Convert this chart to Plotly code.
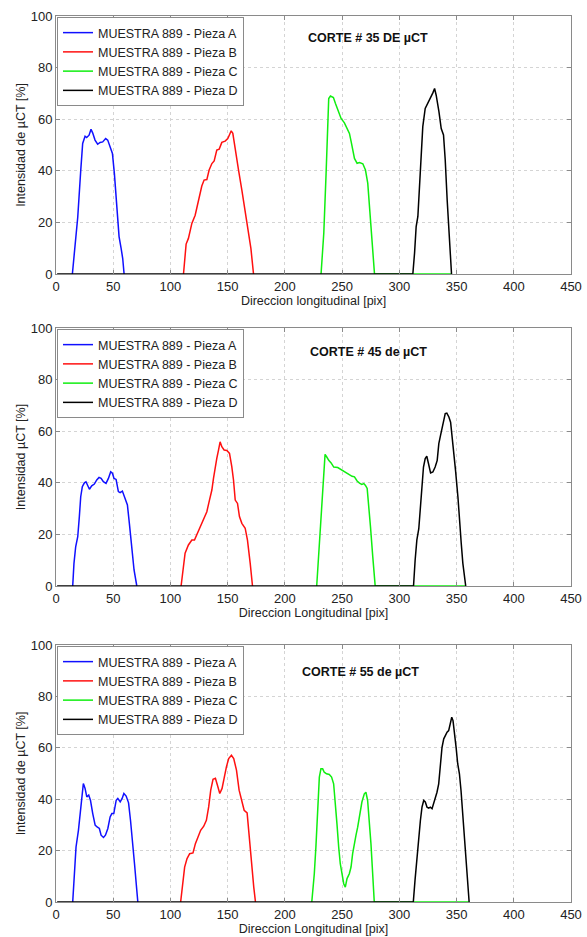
import plotly.graph_objects as go

# ---------------- DATA ----------------
names = ["MUESTRA 889 - Pieza A", "MUESTRA 889 - Pieza B",
         "MUESTRA 889 - Pieza C", "MUESTRA 889 - Pieza D"]
colors = ["#1010ff", "#ff1010", "#10ee10", "#000000"]

# Corte 35
c35_ax = [14.3, 16.6, 19, 21.6, 23.3, 25.4, 26.8, 28.9, 30.6, 32.1, 34.1, 36.4, 38.5, 40.8, 43.4, 45.2, 47.2, 49.3, 51, 53, 55.1, 56.9, 58.3, 59.5]
c35_ay = [0, 10.6, 22, 40, 50.6, 53.4, 52.9, 53.8, 56.1, 54.6, 51.9, 50.3, 51, 51.2, 52.5, 51.9, 49.3, 46.7, 39, 28.6, 14.5, 9.9, 6, 0]
c35_bx = [111.4, 112.3, 113.7, 115.7, 118.7, 121.6, 124.5, 127.4, 129.4, 131.8, 133.8, 136.2, 138.2, 140.5, 142.6, 144.9, 147.8, 150.1, 151.6, 153.1, 154.5, 156.6, 159.5, 162.4, 165.3, 168.2, 170.3, 172.6]
c35_by = [0, 5.4, 11.6, 13.8, 19.6, 22.8, 28.6, 34.1, 36.4, 36.6, 40.3, 42.8, 43.8, 48, 48.4, 51, 51.5, 52.5, 54, 55.5, 54.5, 48, 40.3, 32.5, 24.8, 16.4, 9.9, 0]
c35_cx = [231.6, 234, 236, 237.5, 238.3, 239.8, 242.4, 244.2, 246.2, 249.1, 252, 254.4, 256.4, 257.9, 259.3, 260.8, 263.1, 265.2, 268.1, 270.4, 272.4, 274.8, 276.8, 278.3, 346]
c35_cy = [0, 15.9, 39, 58.4, 68, 69, 68.4, 66.1, 63.5, 60.3, 58.6, 56.4, 54.5, 51.3, 47.4, 44.8, 42.9, 43.2, 42.7, 40.3, 35.2, 21, 8.1, 0, 0]
c35_dx = [1, 311.8, 313.3, 314.7, 316.2, 317.6, 319.1, 320.5, 322.6, 324.9, 327.3, 329.3, 330.8, 332.2, 334.6, 336.6, 338.6, 340.1, 341.8, 343.3, 344.8, 345.6, 346]
c35_dy = [0, 0, 8.1, 18.4, 22.3, 32.6, 46.8, 57.1, 64.2, 66.1, 68, 70.2, 71.9, 69.3, 62.9, 56.4, 53.9, 44.2, 28.7, 15.9, 5.5, 0, 0]

# Corte 45
c45_ax = [14.6, 15.7, 17.2, 19, 20.4, 21.6, 23, 24.8, 26.2, 27.7, 29.2, 31.2, 33.5, 35.6, 37.6, 39.4, 41.4, 43.7, 45.8, 47.8, 49.3, 50.7, 52.5, 54.5, 56, 58, 60.3, 62.4, 64.1, 66.2, 68.2, 70.6]
c45_ay = [0, 8.8, 15.2, 19.1, 26.9, 34.6, 38.5, 40, 40.4, 39.1, 37.5, 38.8, 39.5, 41.1, 42.1, 41.7, 40.4, 39.8, 41.7, 44.3, 43.7, 41.7, 41.3, 36.6, 36.2, 36.8, 34, 31.4, 24.3, 14, 6.2, 0]
c45_bx = [109.3, 110.8, 112.8, 115.7, 118.7, 121, 123, 126, 128.9, 131.8, 134.1, 136.2, 137.6, 139.1, 140.5, 142, 143.4, 144.9, 146.9, 149.3, 151.6, 153.6, 155.1, 156.6, 158.6, 160.3, 162.4, 165.3, 167.3, 169.7, 171.7]
c45_by = [0, 6.2, 12.7, 15.9, 17.8, 17.8, 19.8, 23, 26.2, 28.8, 33.3, 37.2, 41.7, 46.3, 49.5, 52.7, 55.9, 54, 52.7, 52.5, 51.4, 46.3, 41.1, 33.3, 32, 26.9, 24.3, 22.4, 17.8, 8.8, 0]
c45_cx = [227.8, 229.5, 231.6, 233.7, 235.1, 236.6, 238.3, 240.4, 242.7, 246.2, 249.1, 252, 254.4, 256.4, 258.7, 260.8, 263.1, 265.2, 267.2, 269, 270.4, 271.9, 273.4, 274.8, 276.8, 278.9, 358]
c45_cy = [0, 12.6, 29.4, 44.8, 51, 50, 48.7, 47.7, 46.1, 45.9, 45.1, 44.2, 43.6, 43.3, 42.5, 42.3, 40.7, 39.9, 39.4, 39.7, 39, 37.8, 30.7, 22.9, 11.3, 0, 0]
c45_dx = [1, 312.4, 313.8, 315.3, 317, 318.5, 319.6, 321.1, 322.6, 324, 325.5, 327.3, 329.3, 331.3, 333.1, 334.5, 336, 338, 340.1, 341.5, 343.3, 344.8, 346.2, 347.7, 349.1, 351.2, 352.6, 354.1, 355.5, 357.6, 358]
c45_dy = [0, 0, 10, 17.8, 22.2, 30.7, 37.1, 46.1, 49.4, 50.3, 47.4, 43.8, 44.2, 46.1, 48.7, 55.2, 58.4, 62.9, 66.8, 67, 65.5, 63.5, 57.7, 52.6, 44.8, 34.5, 24.2, 16.5, 8.8, 0, 0]

# Corte 55
c55_ax = [14.6, 16.1, 17.5, 19.6, 21.3, 22.8, 23.9, 25.4, 26.9, 28.6, 30.1, 32.1, 34.2, 35.9, 37.9, 39.4, 41.5, 43.2, 45.3, 47.3, 48.8, 50.5, 52.6, 54, 56.1, 57.8, 59.3, 61.3, 63.4, 65.1, 67.2, 68.6, 70.1, 71.5]
c55_ay = [0, 11, 21.4, 27.9, 35.7, 43.5, 46.1, 44.2, 40.9, 41.6, 39.6, 34.4, 29.9, 29.2, 28.6, 26, 25.1, 26, 28.6, 33.1, 34.4, 34.4, 39.6, 40.3, 39, 40.3, 42.2, 41.2, 38.6, 31.8, 22.7, 14.9, 7.1, 0]
c55_bx = [108.9, 110.4, 112.4, 114.5, 116.8, 119.7, 121.8, 124.1, 126.4, 129.1, 131.4, 133.4, 135.2, 137.2, 139.3, 141, 143.1, 145.1, 146.9, 148.9, 150.9, 153.3, 155.3, 157.7, 160, 162, 164.4, 167, 168.8, 170.8, 172.8, 174.3]
c55_by = [0, 7.1, 13.6, 16.9, 18.8, 19.1, 22.7, 25.3, 27.9, 29.5, 31.8, 37, 43.5, 47.7, 48.1, 45.5, 42.2, 44.2, 48.7, 52.6, 55.8, 57.1, 55.8, 51.3, 43.5, 39.6, 35.7, 34.7, 25.3, 13.6, 5.8, 0]
c55_cx = [223.5, 225.7, 227.1, 228.6, 230.1, 231.5, 233, 234.4, 236.4, 238.8, 240.8, 242.6, 244, 245.5, 247, 248.4, 249.9, 251.4, 252.8, 254.3, 256.3, 257.8, 259.2, 260.7, 262.1, 263.6, 265.6, 267.3, 269.4, 270.8, 272.3, 273.8, 275.2, 276.7, 278.1, 361]
c55_cy = [0, 11, 21.4, 35.6, 48.6, 51.8, 51.8, 50.5, 49.9, 49.6, 48.6, 46, 39.5, 30.4, 21.4, 14.9, 11, 7.1, 5.8, 9.1, 11, 13.6, 18.8, 23.3, 25.9, 29.1, 34.3, 38.9, 42.1, 42.7, 39.5, 31.7, 22.7, 11, 0, 0]
c55_dx = [1, 312.2, 313.7, 315.2, 316.6, 318.4, 319.8, 321.3, 322.7, 324.2, 325.7, 327.1, 328.6, 330, 331.5, 332.9, 334.4, 335.9, 337.3, 338.8, 340.2, 341.7, 343.1, 344.3, 345.8, 346.9, 348.1, 349.6, 351, 352.5, 353.9, 355.4, 356.9, 358.3, 359.8, 361, 361.5]
c55_dy = [0, 0, 8.4, 16.2, 24, 31.7, 36.9, 39.5, 38.9, 36.9, 36.5, 36.9, 36.3, 38.2, 40.8, 42.7, 46, 52.5, 60.2, 63.5, 64.8, 66.1, 66.7, 69.3, 71.9, 70.6, 66.7, 60.2, 53.8, 49.9, 43.4, 34.3, 22.7, 13.6, 5.8, 0, 0]

titles = ["CORTE # 35 DE µCT", "CORTE # 45 de µCT", "CORTE # 55 de µCT"]
xtitles = ["Direccion longitudinal [pix]", "Direccion Longitudinal [pix]", "Direccion Longitudinal [pix]"]
ytitles = ["Intensidad de µCT [%]", "Intensidad µCT [%]", "Intensidad de µCT [%]"]
x_ticks = [0, 50, 100, 150, 200, 250, 300, 350, 400, 450]
y_ticks = [0, 20, 40, 60, 80, 100]

panels = [
    [(c35_ax, c35_ay), (c35_bx, c35_by), (c35_cx, c35_cy), (c35_dx, c35_dy)],
    [(c45_ax, c45_ay), (c45_bx, c45_by), (c45_cx, c45_cy), (c45_dx, c45_dy)],
    [(c55_ax, c55_ay), (c55_bx, c55_by), (c55_cx, c55_cy), (c55_dx, c55_dy)],
]

# ---------------- LAYOUT ----------------
W, H = 587, 937
x0_px, x1_px = 56, 571
panel_px = [(16, 274), (328, 586), (645, 902)]
title_px = [(368, 38), (368, 352), (360, 672)]
FONT = "Liberation Sans, Arial, Helvetica, sans-serif"

fig = go.Figure()
legend_keys = ["legend", "legend2", "legend3"]
layout = dict(
    width=W, height=H, autosize=False,
    margin=dict(l=0, r=0, t=0, b=0, autoexpand=False),
    paper_bgcolor="white", plot_bgcolor="white",
    font=dict(family=FONT, size=12, color="#222"),
    annotations=[],
)

for i, series in enumerate(panels):
    xa = "x" if i == 0 else f"x{i+1}"
    ya = "y" if i == 0 else f"y{i+1}"
    for j, (xs, ys) in enumerate(series):
        fig.add_trace(go.Scatter(
            x=xs, y=ys, mode="lines", name=names[j],
            line=dict(color=colors[j], width=1.5),
            xaxis=xa, yaxis=ya, legend=legend_keys[i],
            hoverinfo="skip",
        ))
    top, bot = panel_px[i]
    ydom = [1 - bot / H, 1 - top / H]
    axis_common = dict(
        showline=True, linecolor="#8a8a8a", linewidth=1, mirror="ticks",
        ticks="inside", ticklen=4, tickcolor="#8a8a8a",
        showgrid=True, gridcolor="#d4d4d4", griddash="dot", gridwidth=1,
        zeroline=False, tickfont=dict(size=13, color="#222"),
        automargin=False, ticklabeloverflow="allow",
    )
    layout["xaxis" if i == 0 else f"xaxis{i+1}"] = dict(
        axis_common, domain=[x0_px / W, x1_px / W], range=[0, 450],
        tickvals=x_ticks, anchor=ya,
        title=dict(text=xtitles[i], font=dict(size=12.5), standoff=0),
    )
    layout["yaxis" if i == 0 else f"yaxis{i+1}"] = dict(
        axis_common, domain=ydom, range=[0, 100],
        tickvals=y_ticks, anchor=xa,
        title=dict(text=ytitles[i], font=dict(size=12.5), standoff=2),
    )
    layout[legend_keys[i]] = dict(
        x=(x0_px + 1) / W, y=1 - (top + 1) / H, xanchor="left", yanchor="top",
        bgcolor="white", bordercolor="#8a8a8a", borderwidth=1,
        font=dict(size=12.5, color="#222"), itemwidth=30,
        tracegroupgap=0,
    )
    tx, ty = title_px[i]
    layout["annotations"].append(dict(
        text=f"<b>{titles[i]}</b>", x=tx / W, y=1 - ty / H,
        xref="paper", yref="paper", showarrow=False,
        font=dict(size=12.5, color="#111"), xanchor="center", yanchor="middle",
    ))

fig.update_layout(**layout)
fig.write_html(
    "out.html",
    config={"displayModeBar": False},
    post_script="document.body.style.margin='0';document.body.style.overflow='hidden';",
)
